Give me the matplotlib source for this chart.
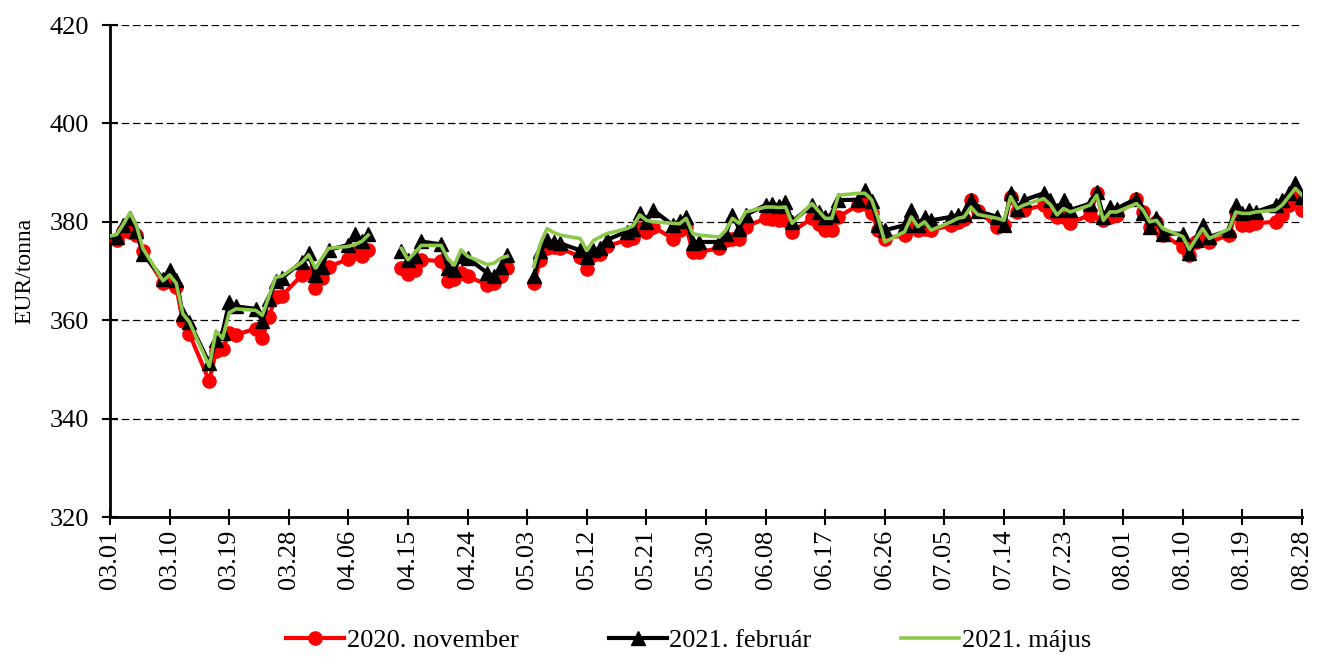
import pandas as pd
import numpy as np
import matplotlib
matplotlib.use("Agg")
import matplotlib.pyplot as plt
import matplotlib.dates as mdates

plt.rcParams["font.family"] = ["Liberation Serif", "DejaVu Serif"]

# =====================
# Data (EUR/tonna, 2020)
# =====================
dates = [
    "02.28",
    "03.02", "03.03", "03.04", "03.05", "03.06",
    "03.09", "03.10", "03.11", "03.12", "03.13",
    "03.16", "03.17", "03.18", "03.19", "03.20",
    "03.23", "03.24", "03.25", "03.26", "03.27",
    "03.30", "03.31", "04.01", "04.02", "04.03",
    "04.06", "04.07", "04.08", "04.09", "04.10",
    "04.13", "04.14", "04.15", "04.16", "04.17",
    "04.20", "04.21", "04.22", "04.23", "04.24",
    "04.27", "04.28", "04.29", "04.30", "05.01",
    "05.04", "05.05", "05.06", "05.07", "05.08",
    "05.11", "05.12", "05.13", "05.14", "05.15",
    "05.18", "05.19", "05.20", "05.21", "05.22",
    "05.25", "05.26", "05.27", "05.28", "05.29",
    "06.01", "06.02", "06.03", "06.04", "06.05",
    "06.08", "06.09", "06.10", "06.11", "06.12",
    "06.15", "06.16", "06.17", "06.18", "06.19",
    "06.22", "06.23", "06.24", "06.25", "06.26",
    "06.29", "06.30", "07.01", "07.02", "07.03",
    "07.06", "07.07", "07.08", "07.09", "07.10",
    "07.13", "07.14", "07.15", "07.16", "07.17",
    "07.20", "07.21", "07.22", "07.23", "07.24",
    "07.27", "07.28", "07.29", "07.30", "07.31",
    "08.03", "08.04", "08.05", "08.06", "08.07",
    "08.10", "08.11", "08.12", "08.13", "08.14",
    "08.17", "08.18", "08.19", "08.20", "08.21",
    "08.24", "08.25", "08.26", "08.27", "08.28",
]

# holidays (04.10, 04.13, 05.01) are empty -> gaps in the lines
nov_2020 = [
    376.0,
    376.3, 378.2, 378.0, 377.3, 374.0,
    367.6, 368.0, 366.8, 359.8, 357.2,
    347.6, 353.8, 354.2, 357.3, 357.0,
    358.3, 356.3, 360.6, 364.8, 365.0,
    369.2, 369.5, 366.5, 368.5, 370.9,
    372.4, 373.6, 373.0, 374.3, None,
    None, 370.6, 369.3, 370.2, 372.3,
    372.0, 367.9, 368.3, 369.6, 368.9,
    367.2, 367.5, 368.9, 370.6, None,
    367.5, 372.2, 374.6, 374.8, 374.6,
    372.9, 370.5, 373.2, 373.5, 375.0,
    376.3, 376.8, 378.6, 378.0, 379.0,
    376.6, 378.4, 379.0, 373.9, 373.9,
    374.6, 376.3, 376.6, 376.6, 379.0,
    380.7, 380.5, 380.3, 380.3, 378.0,
    380.7, 379.5, 378.3, 378.3, 381.0,
    383.4, 383.7, 381.7, 378.3, 376.6,
    377.3, 379.3, 378.3, 378.6, 378.3,
    379.3, 380.0, 380.5, 384.5, 382.2,
    379.0, 379.3, 385.1, 382.0, 382.4,
    383.4, 382.0, 381.0, 381.0, 379.8,
    381.4, 385.8, 380.3, 381.0, 381.4,
    384.7, 382.0, 379.0, 380.0, 377.3,
    374.9, 373.2, 375.9, 376.9, 375.9,
    377.3, 382.0, 379.3, 379.3, 379.7,
    380.0, 381.4, 383.4, 385.1, 382.4,
]

feb_2021 = [
    376.5,
    377.0, 379.3, 380.8, 378.2, 373.5,
    368.4, 370.3, 368.2, 361.2, 359.6,
    351.2, 356.0, 357.5, 363.6, 362.8,
    362.3, 359.8, 364.3, 368.0, 368.6,
    371.9, 373.6, 369.2, 370.8, 374.3,
    375.3, 377.6, 376.0, 377.6, None,
    None, 374.0, 372.3, 373.0, 376.0,
    375.4, 370.6, 370.2, 373.0, 372.6,
    369.6, 368.9, 370.9, 373.3, None,
    368.9, 374.0, 376.3, 375.8, 375.6,
    374.2, 372.9, 374.2, 374.6, 376.3,
    378.0, 378.5, 381.7, 380.0, 382.4,
    379.3, 380.2, 381.0, 375.6, 375.9,
    375.9, 377.6, 381.4, 378.6, 381.4,
    383.4, 383.7, 383.3, 384.0, 380.0,
    383.4, 382.0, 381.0, 381.4, 384.4,
    384.5, 386.4, 384.2, 379.3, 378.3,
    379.3, 382.4, 379.3, 381.0, 380.3,
    381.0, 381.4, 381.6, 384.4, 382.2,
    381.0, 379.3, 385.8, 382.7, 384.4,
    385.8, 384.4, 382.4, 384.4, 382.4,
    383.7, 386.1, 381.0, 383.0, 382.7,
    384.7, 381.7, 379.0, 380.7, 377.6,
    377.6, 373.6, 376.3, 379.3, 376.9,
    378.3, 383.4, 381.7, 382.4, 382.0,
    383.4, 384.4, 385.8, 387.8, 385.1,
]

may_2021 = [
    376.5,
    377.4, 379.5, 381.8, 379.2, 374.5,
    368.0, 369.2, 367.5, 361.3, 359.6,
    350.6, 357.8, 356.3, 361.5, 362.3,
    362.0, 361.0, 364.8, 368.7, 369.0,
    371.8, 373.3, 370.6, 372.6, 374.6,
    375.0, 375.4, 376.0, 377.3, None,
    None, 374.6, 372.3, 373.7, 375.2,
    375.2, 372.5, 371.2, 374.3, 373.0,
    371.3, 371.6, 372.6, 373.0, None,
    370.9, 375.6, 378.6, 377.8, 377.3,
    376.6, 374.2, 376.2, 376.9, 377.6,
    378.6, 379.2, 381.4, 380.3, 380.0,
    379.7, 379.6, 380.7, 377.6, 377.3,
    376.9, 378.3, 380.7, 379.7, 382.0,
    383.0, 383.0, 382.9, 383.0, 379.7,
    383.7, 382.2, 380.7, 380.7, 385.4,
    385.8, 385.8, 384.5, 380.7, 375.9,
    378.0, 381.0, 379.0, 380.0, 378.3,
    380.0, 380.7, 381.0, 383.0, 381.5,
    380.7, 380.3, 385.1, 382.7, 383.4,
    384.7, 383.5, 381.4, 382.7, 382.0,
    383.4, 385.4, 380.3, 382.0, 382.0,
    383.7, 382.4, 380.0, 380.3, 378.6,
    377.0, 374.4, 376.6, 378.6, 376.6,
    378.6, 382.0, 381.7, 381.7, 382.0,
    382.4, 383.4, 385.1, 386.8, 385.4,
]

# =====================
# Prepare
# =====================
df = pd.DataFrame({
    "date": pd.to_datetime(["2020." + d for d in dates], format="%Y.%m.%d"),
    "nov": pd.Series(nov_2020, dtype="float"),
    "feb": pd.Series(feb_2021, dtype="float"),
    "may": pd.Series(may_2021, dtype="float"),
})

# =====================
# Plot
# =====================
fig = plt.figure(figsize=(13.17, 6.57), dpi=100)
ax = fig.add_axes([110 / 1317, 1 - 517 / 657, 1192 / 1317, 492 / 657])

ax.plot(df["date"], df["nov"], color="#ff0000", linewidth=3.0,
        marker="o", markersize=9.5, label="2020. november", zorder=3)
ax.plot(df["date"], df["feb"], color="black", linewidth=3.0,
        marker="^", markersize=9.5, label="2021. február", zorder=4)
ax.plot(df["date"], df["may"], color="#8cc94b", linewidth=2.6,
        label="2021. május", zorder=5)

ax.set_xlim(pd.Timestamp("2020-03-01"), pd.Timestamp("2020-08-28"))
ax.set_ylim(320, 420)
ax.set_yticks(np.arange(320, 421, 20))

xticks = pd.date_range("2020-03-01", "2020-08-28", freq="9D")
ax.set_xticks(xticks)
ax.xaxis.set_major_formatter(mdates.DateFormatter("%m.%d"))
plt.setp(ax.get_xticklabels(), rotation=90)

ax.tick_params(axis="both", labelsize=19, direction="inout", length=12,
               width=1.5, color="black")
ax.tick_params(axis="y", pad=9)
ax.tick_params(axis="x", pad=3)

ax.grid(axis="y", color="black", linestyle=(0, (6, 3)), linewidth=0.9)
ax.set_axisbelow(True)

for side in ["top", "right"]:
    ax.spines[side].set_visible(False)
for side in ["left", "bottom"]:
    ax.spines[side].set_linewidth(2)

ax.set_ylabel("EUR/tonna", fontsize=17, labelpad=10)

fig.legend(loc="center", bbox_to_anchor=(0.523, 1 - 640 / 657), ncol=3,
           frameon=False, fontsize=19, handlelength=2.2, handletextpad=0.1,
           columnspacing=3.4)

fig.savefig("out.png", dpi=100)
